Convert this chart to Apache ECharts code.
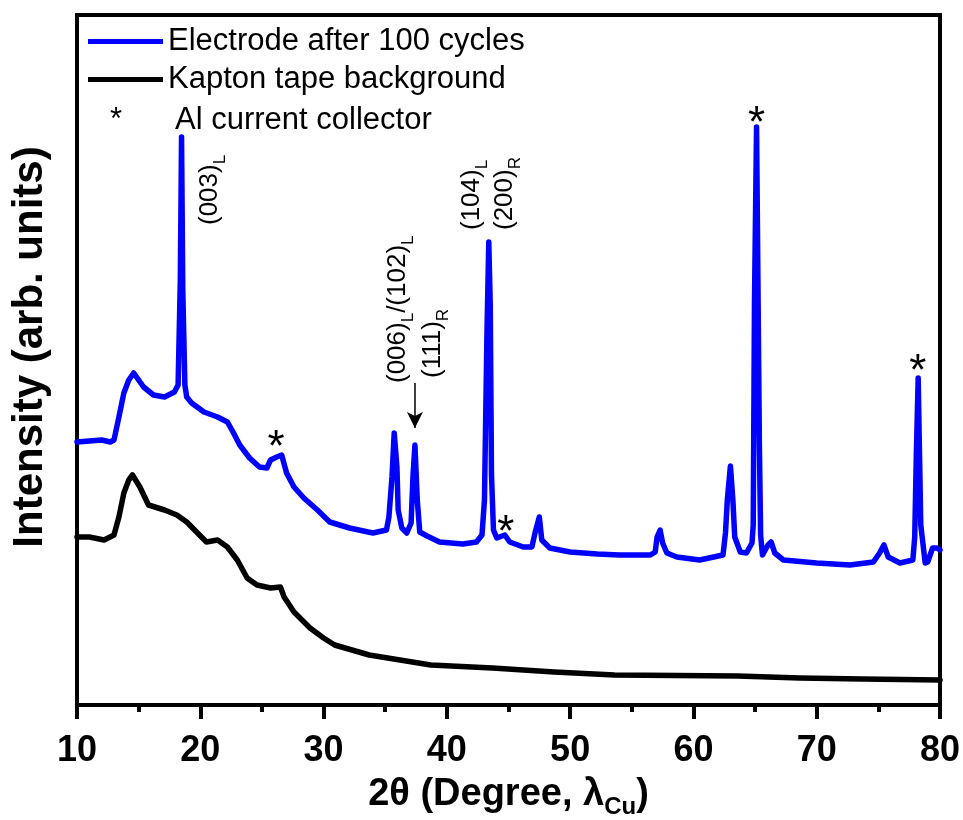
<!DOCTYPE html>
<html>
<head>
<meta charset="utf-8">
<script src="https://cdn.jsdelivr.net/npm/echarts@6/dist/echarts.min.js"></script>
<style>
  html, body { margin: 0; padding: 0; background: #fff; }
  #chart { width: 963px; height: 820px; }
</style>
</head>
<body>
<div id="chart"></div>
<script>
// XRD patterns: [2theta (deg), intensity (arb. units)]
const electrode = [
  [10.0,263],[11.0,264],[12.0,265],[12.7,263],[13.0,265],[13.4,288],[13.8,312],[14.2,325],[14.6,332],
  [15.0,325],[15.4,318],[16.2,310],[17.1,308],[17.9,313],[18.2,320],[18.38,425],[18.48,568],[18.58,415],
  [18.75,320],[18.9,308],[19.3,302],[20.3,293],[21.4,288],[22.2,283],[22.7,272],[23.2,260],[24.0,247],
  [24.8,238],[25.4,237],[25.7,245],[26.2,248],[26.6,250],[27.0,232],[27.6,218],[28.4,207],[29.5,195],
  [30.5,183],[32.1,177],[34.0,172],[35.1,175],[35.3,188],[35.55,228],[35.73,272],[35.95,238],[36.05,195],
  [36.35,177],[36.75,172],[37.1,182],[37.25,228],[37.41,260],[37.6,205],[37.8,173],[38.4,169],[39.4,163],
  [41.3,161],[42.4,163],[42.85,170],[43.05,205],[43.25,370],[43.4,463],[43.52,400],[43.62,230],[43.78,175],
  [44.05,167],[44.7,170],[45.1,163],[46.2,158],[46.9,158],[47.15,172],[47.5,188],[47.7,165],[48.35,157],
  [50.0,153],[52.2,151],[54.0,150],[56.5,150],[56.9,153],[57.05,168],[57.3,175],[57.5,162],[57.85,152],
  [58.65,148],[60.5,145],[62.4,150],[62.6,172],[62.75,205],[63.0,239],[63.2,205],[63.35,168],[63.8,153],
  [64.3,152],[64.75,162],[64.85,180],[64.95,400],[65.12,578],[65.25,400],[65.35,260],[65.45,170],[65.6,150],
  [66.05,160],[66.3,163],[66.6,152],[67.3,145],[70.0,142],[72.7,140],[74.6,143],[75.1,152],[75.45,160],
  [75.8,148],[76.75,142],[77.8,145],[77.95,168],[78.08,250],[78.23,327],[78.34,250],[78.44,180],[78.8,142],
  [79.0,143],[79.4,157],[79.75,157],[80.0,155]
];

const kapton = [
  [10.0,168],[11.0,168],[12.2,165],[13.0,170],[13.4,188],[13.8,212],[14.2,225],[14.5,230],[15.1,218],
  [15.8,200],[17.1,195],[18.1,190],[18.9,183],[19.7,173],[20.5,163],[21.4,165],[22.2,158],[23.0,145],
  [23.8,127],[24.6,120],[25.7,117],[26.5,118],[26.8,108],[27.6,93],[28.9,77],[30.0,67],[30.9,60],
  [33.7,50],[36.2,45],[38.7,40],[43.7,37],[48.7,33],[53.6,30],[63.6,29],[68.6,27],[73.7,26],[80.0,25]
];

const seriesNames = ['Electrode after 100 cycles', 'Kapton tape background'];
const alLegendText = 'Al current collector';

// Al current collector reflections (asterisk positions)
const alMarks = [[26.14,267],[44.79,182],[65.12,591],[78.2,343]];

// Miller-index labels: anchor [2theta, intensity], main text, subscript
const hklLabels = [
  { at: [20.75, 480], parts: [['(003)', 'L']] },
  { at: [35.99, 322], parts: [['(006)', 'L'], ['/(102)', 'L']] },
  { at: [38.83, 327], parts: [['(111)', 'R']] },
  { at: [42.0, 475],  parts: [['(104)', 'L']] },
  { at: [44.71, 475], parts: [['(200)', 'R']] }
];

// arrow pointing at the (111)R reflection
const arrowFrom = [37.41, 322];
const arrowTo = [37.41, 277];

const FONT = "'Liberation Sans', Arial, Helvetica, sans-serif";

const chart = echarts.init(document.getElementById('chart'), null, { renderer: 'canvas' });

const option = {
  animation: false,
  backgroundColor: '#fff',
  grid: {
    left: 77, right: 23, top: 15, bottom: 115,
    show: true, borderColor: '#000', borderWidth: 4,
    containLabel: false, outerBoundsMode: 'none'
  },
  legend: {
    data: seriesNames,
    orient: 'vertical',
    left: 88, top: 26,
    icon: 'rect',
    itemWidth: 75, itemHeight: 5, itemGap: 7,
    padding: 0,
    selectedMode: false,
    textStyle: { fontFamily: FONT, fontSize: 31, color: '#000' }
  },
  xAxis: {
    type: 'value', min: 10, max: 80, interval: 10,
    name: '{m|2θ (Degree, λ}{s|Cu}{m|)}',
    nameLocation: 'middle', nameGap: 66,
    nameTextStyle: {
      rich: {
        m: { fontFamily: FONT, fontSize: 38, fontWeight: 'bold', color: '#000', lineHeight: 48 },
        s: { fontFamily: FONT, fontSize: 24, fontWeight: 'bold', color: '#000', lineHeight: 24, verticalAlign: 'bottom' }
      }
    },
    axisLine: { show: true, lineStyle: { color: '#000', width: 4 } },
    axisTick: { show: true, inside: false, length: 14, lineStyle: { color: '#000', width: 4 } },
    minorTick: { show: true, splitNumber: 2, length: 7, lineStyle: { color: '#000', width: 4 } },
    axisLabel: { fontFamily: FONT, fontSize: 36, fontWeight: 'bold', color: '#000', margin: 28 },
    splitLine: { show: false }
  },
  yAxis: {
    type: 'value', min: 0, max: 690,
    name: 'Intensity (arb. units)',
    nameLocation: 'middle', nameGap: 26,
    nameTextStyle: { fontFamily: FONT, fontSize: 42, fontWeight: 'bold', color: '#000', padding: [0, 0, 0, 26] },
    axisLine: { show: false },
    axisTick: { show: false },
    axisLabel: { show: false },
    splitLine: { show: false }
  },
  series: [
    {
      name: seriesNames[0], type: 'line', data: electrode,
      symbol: 'none', showSymbol: false, smooth: false,
      lineStyle: { color: '#0000ff', width: 5.5, cap: 'round', join: 'round' },
      itemStyle: { color: '#0000ff' },
      z: 3,
      markLine: {
        silent: true,
        symbol: ['none', 'arrow'],
        symbolSize: [12, 16],
        label: { show: false },
        lineStyle: { color: '#000', width: 1.5, type: 'solid' },
        emphasis: { disabled: true },
        data: [[{ coord: arrowFrom }, { coord: arrowTo }]]
      }
    },
    {
      name: seriesNames[1], type: 'line', data: kapton,
      symbol: 'none', showSymbol: false, smooth: false,
      lineStyle: { color: '#000', width: 5.5, cap: 'round', join: 'round' },
      itemStyle: { color: '#000' },
      z: 2
    }
  ]
};

chart.setOption(option);

function toPx(p) { return chart.convertToPixel({ gridIndex: 0 }, p); }

const graphics = [];

// legend entry for the Al reflections
graphics.push({
  type: 'text', x: 116, y: 120,
  style: { text: '*', fontFamily: FONT, fontSize: 31, fill: '#000', align: 'center', verticalAlign: 'middle' }
});
graphics.push({
  type: 'text', x: 175, y: 120,
  style: { text: alLegendText, fontFamily: FONT, fontSize: 31, fill: '#000', align: 'left', verticalAlign: 'middle' }
});

// asterisks above Al peaks
const starSize = 44;
alMarks.forEach(function (m) {
  const p = toPx(m);
  graphics.push({
    type: 'text', x: p[0], y: p[1] + starSize * 0.25,
    style: { text: '*', fontFamily: FONT, fontSize: starSize, fill: '#000', align: 'center', verticalAlign: 'middle' }
  });
});

// rotated Miller-index labels with subscripts
hklLabels.forEach(function (lab) {
  const p = toPx(lab.at);
  const txt = lab.parts.map(function (pt) { return '{m|' + pt[0] + '}{s|' + pt[1] + '}'; }).join('');
  graphics.push({
    type: 'text', x: p[0], y: p[1], rotation: Math.PI / 2,
    style: {
      text: txt, fontFamily: FONT, fontSize: 26, fill: '#000',
      align: 'left', verticalAlign: 'middle',
      rich: {
        m: { fontFamily: FONT, fontSize: 26, lineHeight: 38, fill: '#000' },
        s: { fontFamily: FONT, fontSize: 17, lineHeight: 17, fill: '#000', verticalAlign: 'bottom' }
      }
    }
  });
});

chart.setOption({ graphic: graphics });
</script>
</body>
</html>
